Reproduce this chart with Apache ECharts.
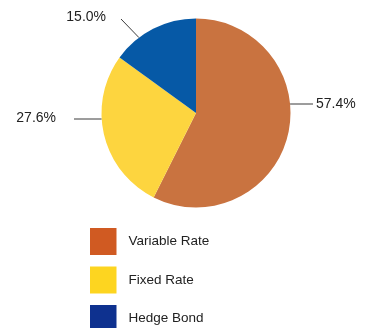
<!DOCTYPE html>
<html>
<head>
<meta charset="utf-8">
<style>
  html, body { margin: 0; padding: 0; background: #ffffff; }
  #chart { width: 365px; height: 328px; }
</style>
<script src="https://cdn.jsdelivr.net/npm/echarts@6/dist/echarts.min.js"></script>
</head>
<body>
<div id="chart"></div>
<script>
// Portfolio mix by rate type
const categories = ['Variable Rate', 'Fixed Rate', 'Hedge Bond'];
const shares = [57.4, 27.6, 15.0];
const sliceColors = ['#c97340', '#fdd53f', '#0659a6'];
const legendColors = ['#d05a22', '#fdd520', '#0e318f'];

const CX = 196, CY = 113, R = 94.5;
const FONT = '"Liberation Sans", Arial, sans-serif';

// label callouts: text anchor, alignment, angle (deg, counter-clockwise from 12 o'clock)
// where the leader meets the rim, and the leader's outer end
const callouts = [
  { x: 316, y: 104.5, align: 'left',  rimY: 104, end: [313, 104] },
  { x: 56,  y: 118.5, align: 'right', rimY: 119, end: [74, 119] },
  { x: 106, y: 17,    align: 'right', rimAngle: 37.1, end: [121, 19] }
];

function rimPoint(c) {
  if (c.rimAngle !== undefined) {
    const a = c.rimAngle * Math.PI / 180;
    return [CX - R * Math.sin(a), CY - R * Math.cos(a)];
  }
  const dx = Math.sqrt(R * R - (c.rimY - CY) * (c.rimY - CY));
  return [c.align === 'left' ? CX + dx : CX - dx, c.rimY];
}

const chart = echarts.init(document.getElementById('chart'), null, { renderer: 'canvas' });

// one single-entry legend per category, stacked under the pie
const legendTops = [228, 266.5, 305];
const legends = categories.map((name, i) => ({
  orient: 'vertical',
  left: 90,
  top: legendTops[i],
  padding: 0,
  itemWidth: 26.5,
  itemHeight: 27,
  icon: 'rect',
  selectedMode: false,
  textStyle: {
    fontFamily: FONT,
    fontSize: 13.5,
    color: '#222222',
    padding: [0, 0, 0, 7]
  },
  data: [{ name, itemStyle: { color: legendColors[i] } }]
}));

chart.setOption({
  animation: false,
  legend: legends,
  series: [{
    type: 'pie',
    center: [CX, CY],
    radius: R,
    startAngle: 90,
    clockwise: true,
    label: {
      show: true,
      formatter: p => p.value.toFixed(1) + '%',
      fontFamily: FONT,
      fontSize: 14,
      color: '#222222',
      overflow: 'none'
    },
    labelLine: {
      show: true,
      length: 12,
      length2: 12,
      lineStyle: { color: '#3a3a3a', width: 1 }
    },
    labelLayout: params => {
      const c = callouts[params.dataIndex];
      const p = rimPoint(c);
      return {
        x: c.x, y: c.y, align: c.align, verticalAlign: 'middle',
        width: 60,
        labelLinePoints: [p, c.end, c.end]
      };
    },
    emphasis: { disabled: true },
    data: categories.map((name, i) => ({
      name,
      value: shares[i],
      itemStyle: { color: sliceColors[i] }
    }))
  }]
});
</script>
</body>
</html>
